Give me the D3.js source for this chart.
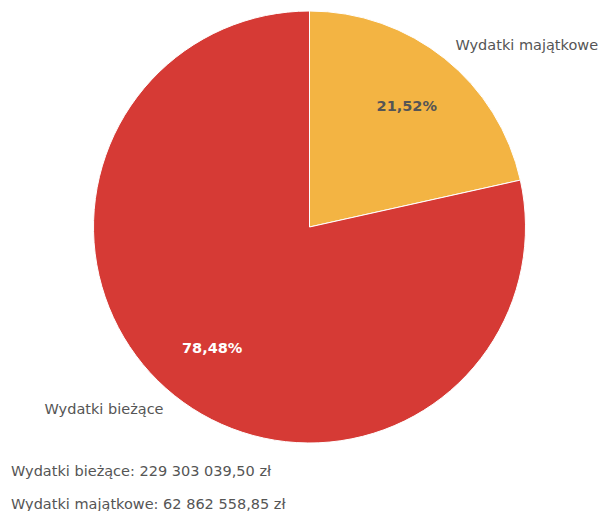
<!DOCTYPE html>
<head>
    <meta charset="utf-8">
    <script src="https://d3js.org/d3.v7.min.js"></script>
    <style>
        body {
            margin: 0;
            background-color: #fff;
        }

        text {
            font-family: "DejaVu Sans", sans-serif;
            font-size: 14.5px;
            fill: #555;
        }

        .pct {
            font-weight: bold;
        }

        .slice {
            stroke: #fff;
            stroke-width: 1px;
        }
    </style>
</head>

<body>
    <script>
        var width = 599,
            height = 511;

        var categories = ["Wydatki majątkowe", "Wydatki bieżące"];
        var values = [62862558.85, 229303039.50];
        var percentLabels = ["21,52%", "78,48%"];
        var summaryLines = [
            "Wydatki bieżące: 229 303 039,50 zł",
            "Wydatki majątkowe: 62 862 558,85 zł"
        ];

        var color = d3.scaleOrdinal()
            .domain(categories)
            .range(["#f3b443", "#d63a35"]);

        var pctColor = d3.scaleOrdinal()
            .domain(categories)
            .range(["#555", "#fff"]);

        var radius = 216;

        var svg = d3.select("body").append("svg")
            .attr("width", width)
            .attr("height", height);

        var g = svg.append("g")
            .attr("transform", "translate(309.5,227)");

        var pie = d3.pie()
            .sort(null)
            .value(function(d) { return d; });

        var arcs = pie(values);

        var arc = d3.arc()
            .innerRadius(0)
            .outerRadius(radius);

        var labelArc = d3.arc()
            .innerRadius(radius * 0.72)
            .outerRadius(radius * 0.72);

        var outerArc = d3.arc()
            .innerRadius(radius * 1.08)
            .outerRadius(radius * 1.08);

        g.selectAll(".slice")
            .data(arcs)
            .enter().append("path")
            .attr("class", "slice")
            .attr("fill", function(d, i) { return color(categories[i]); })
            .attr("d", arc);

        g.selectAll(".pct")
            .data(arcs)
            .enter().append("text")
            .attr("class", "pct")
            .attr("transform", function(d) {
                return "translate(" + labelArc.centroid(d) + ")";
            })
            .attr("text-anchor", "middle")
            .attr("dy", "0.35em")
            .style("fill", function(d, i) { return pctColor(categories[i]); })
            .text(function(d, i) { return percentLabels[i]; });

        g.selectAll(".name")
            .data(arcs)
            .enter().append("text")
            .attr("class", "name")
            .attr("transform", function(d) {
                return "translate(" + outerArc.centroid(d) + ")";
            })
            .attr("text-anchor", function(d) {
                var mid = (d.startAngle + d.endAngle) / 2;
                return mid < Math.PI ? "start" : "end";
            })
            .attr("dy", "0.35em")
            .text(function(d, i) { return categories[i]; });

        svg.selectAll(".summary")
            .data(summaryLines)
            .enter().append("text")
            .attr("class", "summary")
            .attr("x", 11)
            .attr("y", function(d, i) { return 471 + i * 32.5; })
            .attr("dy", "0.35em")
            .text(function(d) { return d; });
    </script>
</body>
